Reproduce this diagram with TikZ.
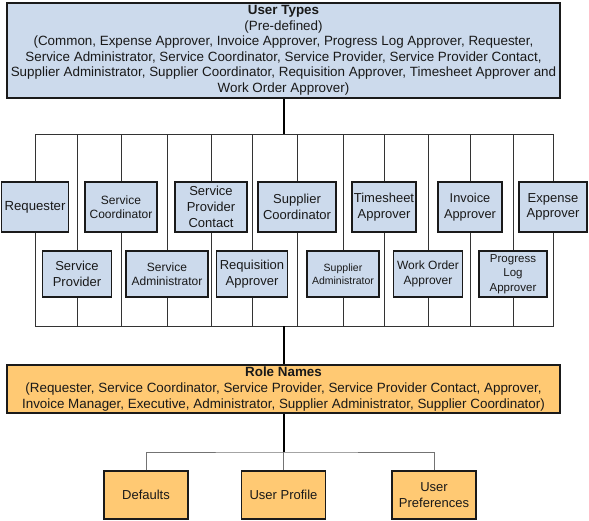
\documentclass[tikz,border=0pt]{standalone}
\usepackage{fontspec}
\setmainfont{Liberation Sans}
\definecolor{bluefill}{HTML}{CCDAEC}
\definecolor{orangefill}{HTML}{FFC973}
\definecolor{edgecol}{HTML}{1A1A1A}
\newcommand\myfs[2]{\fontsize{#1}{#2}\selectfont}
\begin{document}
\begin{tikzpicture}[x=1pt,y=-1pt,
  box/.style={draw=edgecol, line width=1.3pt, inner sep=0pt, align=center, text=black!90},
  bluebox/.style={box, fill=bluefill},
  orbox/.style={box, fill=orangefill},
  upbox/.style={bluebox, minimum height=50pt},
  lowbox/.style={bluebox, minimum height=46pt},
  framelink/.style={draw=black!80, line width=0.8pt},
  boldlink/.style={draw=black, line width=2pt},
  graylink/.style={draw=black!55, line width=1pt}
]
\useasboundingbox (0,0) rectangle (589,520);

% top box
\node[bluebox, minimum width=553pt, minimum height=95pt, font=\myfs{13.4}{15.5}] (top) at (283.5,50.5)
  {\textbf{User Types}\\(Pre-defined)\\(Common, Expense Approver, Invoice Approver, Progress Log Approver, Requester,\\Service Administrator, Service Coordinator, Service Provider, Service Provider Contact,\\Supplier Administrator, Supplier Coordinator, Requisition Approver, Timesheet Approver and\\Work Order Approver)};

% frame corners
\coordinate (ftl) at (35,134);
\coordinate (fbr) at (553,326);
\draw[framelink] (ftl) rectangle (fbr);

% user type boxes
\node[upbox, minimum width=67pt, font=\myfs{13.2}{15.5}] (req) at (35,207) {Requester};
\node[lowbox, minimum width=69pt, font=\myfs{13}{15.5}] (sp) at (77,274) {Service\\Provider};
\node[upbox, minimum width=72pt, font=\myfs{12}{14}] (sc) at (121,207) {Service\\Coordinator};
\node[lowbox, minimum width=82pt, font=\myfs{12}{14.5}] (sa) at (167,274) {Service\\Administrator};
\node[upbox, minimum width=72pt, font=\myfs{13}{15.7}] (spc) at (211,207) {Service\\Provider\\Contact};
\node[lowbox, minimum width=71pt, font=\myfs{13}{15.5}] (ra) at (252,274) {Requisition\\Approver};
\node[upbox, minimum width=78pt, font=\myfs{13}{15.5}] (supc) at (297,207) {Supplier\\Coordinator};
\node[lowbox, minimum width=72pt, font=\myfs{10.5}{13.3}] (supa) at (343,274) {Supplier\\Administrator};
\node[upbox, minimum width=64pt, font=\myfs{13}{15.5}] (ts) at (384,207) {Timesheet\\Approver};
\node[lowbox, minimum width=69pt, font=\myfs{12}{15}] (wo) at (428,274) {Work Order\\Approver};
\node[upbox, minimum width=64pt, font=\myfs{12.8}{15.5}] (inv) at (470,207) {Invoice\\Approver};
\node[lowbox, minimum width=68pt, font=\myfs{11.5}{14.5}] (pl) at (513,274) {Progress\\Log\\Approver};
\node[upbox, minimum width=68pt, font=\myfs{13}{15.5}] (exp) at (553,207) {Expense\\Approver};

\foreach \n in {req,sp,sc,sa,spc,ra,supc,supa,ts,wo,inv,pl,exp}{
  \draw[framelink] (\n.north) -- (\n.north |- ftl);
  \draw[framelink] (\n.south) -- (\n.south |- fbr);
}

% role names
\node[orbox, minimum width=553pt, minimum height=48pt, font=\myfs{13.4}{16}] (role) at (283.5,389)
  {\textbf{Role Names}\\(Requester, Service Coordinator, Service Provider, Service Provider Contact, Approver,\\Invoice Manager, Executive, Administrator, Supplier Administrator, Supplier Coordinator)};

\draw[boldlink] (top.south) -- (top.south |- ftl);
\draw[boldlink] (top.south |- fbr) -- (role.north);

% bottom boxes
\node[orbox, minimum width=84pt, minimum height=48pt, font=\myfs{13}{16}] (def) at (146,495) {Defaults};
\node[orbox, minimum width=84pt, minimum height=48pt, font=\myfs{13}{16}] (prof) at (283.5,495) {User Profile};
\node[orbox, minimum width=84pt, minimum height=48pt, font=\myfs{13}{16}] (pref) at (434,495) {User\\Preferences};

\coordinate (br) at (283.5,452);
\draw[graylink] (def.north) |- (br) -| (pref.north);
\draw[graylink] (br) -- (prof.north);
\draw[boldlink] (role.south) -- (br);
\end{tikzpicture}
\end{document}
